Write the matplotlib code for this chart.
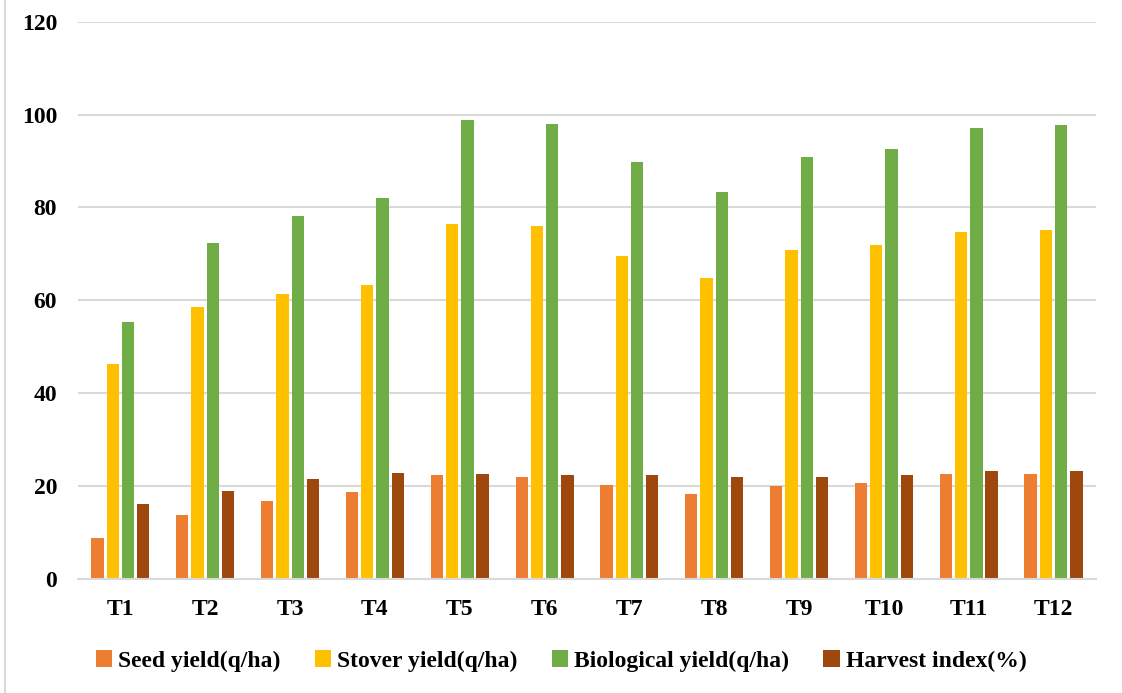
import matplotlib
matplotlib.use("Agg")
import matplotlib.pyplot as plt
from matplotlib.lines import Line2D
import numpy as np

treatments = ["T1", "T2", "T3", "T4", "T5", "T6", "T7", "T8", "T9", "T10", "T11", "T12"]
seed_yield = [8.8, 13.7, 16.7, 18.7, 22.3, 21.9, 20.2, 18.3, 20.0, 20.6, 22.5, 22.6]
stover_yield = [46.2, 58.6, 61.4, 63.2, 76.4, 75.9, 69.6, 64.8, 70.8, 71.8, 74.6, 75.1]
biological_yield = [55.2, 72.4, 78.1, 82.0, 98.8, 97.9, 89.8, 83.2, 90.8, 92.5, 97.2, 97.7]
harvest_index = [16.0, 18.9, 21.4, 22.8, 22.6, 22.4, 22.4, 22.0, 22.0, 22.3, 23.2, 23.2]

series_names = ["Seed yield(q/ha)", "Stover yield(q/ha)",
                "Biological yield(q/ha)", "Harvest index(%)"]
series_values = [seed_yield, stover_yield, biological_yield, harvest_index]
colors = ["#ED7D31", "#FFC000", "#70AD47", "#9E480E"]

plt.rcParams["font.family"] = ["Liberation Serif", "DejaVu Serif"]
plt.rcParams["font.weight"] = "bold"

fig = plt.figure(figsize=(11.22, 6.93), dpi=100)
ax = fig.add_axes([0.0695, 0.165, 0.9073, 0.8037])

x = np.arange(len(treatments))
slot = 0.18
bar_w = 0.145
for i, (name, vals, c) in enumerate(zip(series_names, series_values, colors)):
    ax.bar(x + (i - 1.5) * slot, vals, width=bar_w, color=c, label=name,
           zorder=3)

ax.set_xlim(-0.5, len(treatments) - 0.5)
ax.set_ylim(0, 120)
ax.set_yticks(np.arange(0, 121, 20))
ax.set_xticks(x)
ax.set_xticklabels(treatments)

ax.grid(axis="y", color="#D9D9D9", linewidth=1.5, zorder=0)
for side in ["top", "right", "left"]:
    ax.spines[side].set_visible(False)
ax.spines["bottom"].set_color("#D9D9D9")
ax.spines["bottom"].set_linewidth(1.5)
ax.spines["bottom"].set_zorder(4)

ax.tick_params(axis="both", length=0, labelsize=17, labelcolor="black")
ax.tick_params(axis="y", pad=15)
ax.tick_params(axis="x", pad=15)
for lbl in ax.get_xticklabels() + ax.get_yticklabels():
    lbl.set_fontweight("bold")

fig.legend(loc="center", bbox_to_anchor=(0.5, 1 - 661 / 693), ncol=4,
           frameon=False, handlelength=0.7, handleheight=0.7,
           handletextpad=0.25, columnspacing=1.45,
           prop={"weight": "bold", "size": 17})

# thin grey frame line down the left edge
fig.add_artist(Line2D([5 / 1122, 5 / 1122], [0, 1], transform=fig.transFigure,
                      color="#D9D9D9", linewidth=1.5))

fig.savefig("out.png", dpi=100)
